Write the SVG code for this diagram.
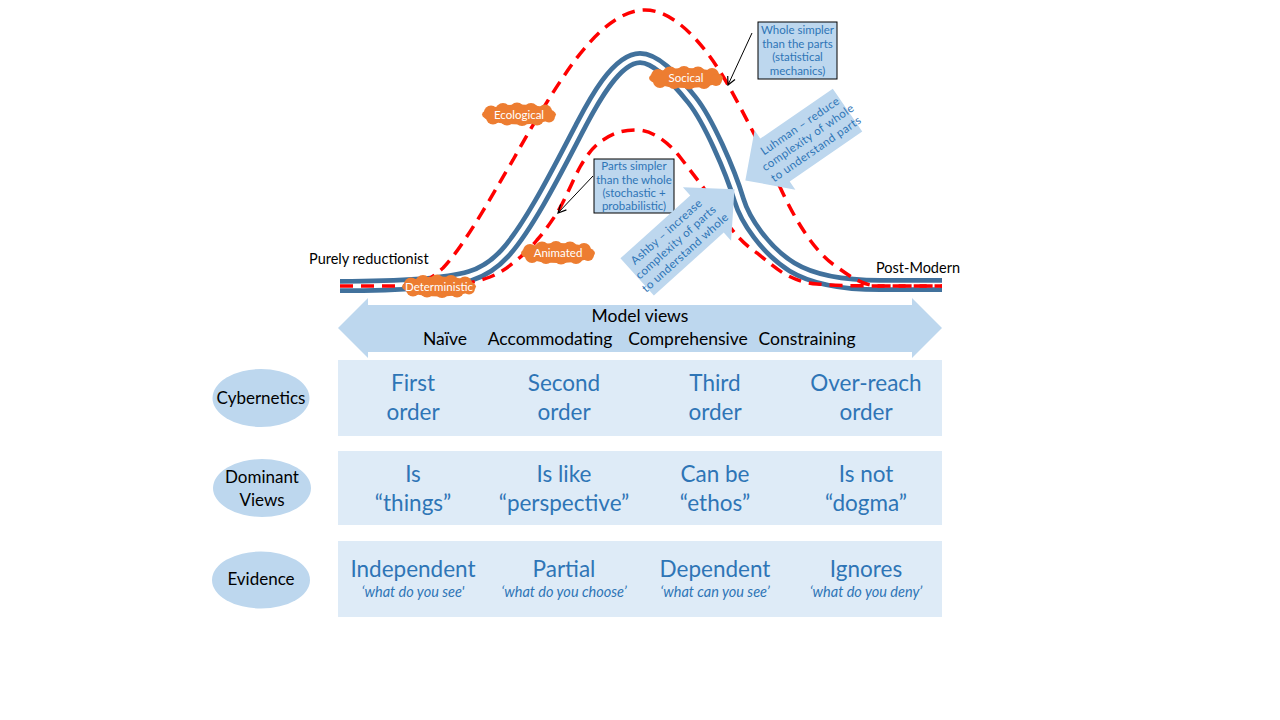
<svg xmlns="http://www.w3.org/2000/svg" width="1280" height="720" viewBox="0 0 1280 720">
<defs>
<style>
text{font-family:Lato,"Liberation Sans",sans-serif}
.blk{fill:#000;font-size:17px}
.mv{fill:#000;font-size:17.5px;text-anchor:middle}
.mid{text-anchor:middle}
.cell{fill:#2E75B6;font-size:22.5px;text-anchor:middle}
.sub{fill:#2E75B6;font-size:14.5px;font-style:italic;text-anchor:middle}
.call{fill:#2E75B6;font-size:11.5px;text-anchor:middle}
.arr{fill:#2E75B6;font-size:11.5px;letter-spacing:0.4px;text-anchor:middle}
.cl{fill:#fff;font-size:11.5px;text-anchor:middle}
.edge{fill:#000;font-size:14.5px}
.row{fill:#DEEBF7}
.oval{fill:#BDD7EE}
.barrow{fill:#BDD7EE}
.blue{fill:none;stroke:#41719C;stroke-width:14}
.gap{fill:none;stroke:#fff;stroke-width:4.5}
.red{fill:none;stroke:#FF0000;stroke-width:3.5;stroke-dasharray:13 8}
.box{fill:#BDD7EE;stroke:#000;stroke-width:1}
.ptr{stroke:#000;stroke-width:1;fill:none}
</style>
<g id="cloudShape" fill="#ED7D31">
<ellipse cx="0" cy="0" rx="37" ry="10"/>
<circle cx="-28" cy="-2" r="7"/>
<circle cx="-16" cy="-4" r="7.5"/>
<circle cx="-2" cy="-4.5" r="7.5"/>
<circle cx="12" cy="-4" r="7.5"/>
<circle cx="26" cy="-3" r="7"/>
<circle cx="-26" cy="3" r="7"/>
<circle cx="-12" cy="4" r="7"/>
<circle cx="3" cy="4" r="7.5"/>
<circle cx="18" cy="4" r="7"/>
<circle cx="30" cy="2" r="6"/>
</g>
<marker id="ah" viewBox="0 0 10 10" refX="9" refY="5" markerWidth="10" markerHeight="10" orient="auto" markerUnits="userSpaceOnUse">
<path d="M1,1 L9,5 L1,9" fill="none" stroke="#000" stroke-width="1.2"/>
</marker>
</defs>
<rect width="1280" height="720" fill="#fff"/>

<g id="connectors">
<path class="blue" d="M340,286 C410,286 450,282 470,276 C483,272 495,264 505,253 C530,225.5 560,165 580,127 C590,108 615,58 640,58 C655,58 672,75 692,100 C708,120 730,170 739,200 C745,220 765,250 792,267 C815,281 845,285 880,285 L942,285"/>
<path class="gap" d="M340,286 C410,286 450,282 470,276 C483,272 495,264 505,253 C530,225.5 560,165 580,127 C590,108 615,58 640,58 C655,58 672,75 692,100 C708,120 730,170 739,200 C745,220 765,250 792,267 C815,281 845,285 880,285 L942,285"/>
<path class="red" d="M340,286 L400,286 C420,286 430,280 443,268 C465,245 495,190 513,160 C528,133 550,95 573,63 C595,33 620,10 645,10 C675,10 705,45 727,83 C745,115 765,155 780,187 C795,220 815,253 837,267 C855,280 865,286 880,286 L942,286"/>
<path class="red" d="M420,287 C450,287 475,283 490,277 C500,273 507,268 513,263 C522,256 530,249 537,240 C545,231 551,222 557,213 C565,200 572,182 580,167 C588,153 595,145 603,140 C612,134 620,130 637,130 C652,130 668,142 680,157 C690,170 696,178 703,187 C714,203 720,215 730,227 C740,240 748,247 757,253 C767,261 775,268 783,273 C795,280 805,283 817,284 C840,286 860,286 942,286"/>
<line class="ptr" x1="752" y1="33" x2="728" y2="85" marker-end="url(#ah)"/>
<line class="ptr" x1="593" y1="176" x2="558" y2="213" marker-end="url(#ah)"/>
</g>

<text class="edge" x="309" y="264">Purely reductionist</text>
<text class="edge" x="876" y="273">Post-Modern</text>

<g id="ecological">
<use href="#cloudShape" transform="translate(519,114.5)"/>
<text class="cl" x="519" y="118.5">Ecological</text>
</g>
<g id="socical">
<use href="#cloudShape" transform="translate(686,78)"/>
<text class="cl" x="686" y="82">Socical</text>
</g>
<g id="animated">
<use href="#cloudShape" transform="translate(558,253)"/>
<text class="cl" x="558" y="257">Animated</text>
</g>
<g id="deterministic">
<use href="#cloudShape" transform="translate(439,286.5)"/>
<text class="cl" x="439" y="290.5">Deterministic</text>
</g>

<g id="whole-simpler">
<rect class="box" x="758" y="22" width="79" height="57"/>
<text class="call" x="797.5" y="34">Whole simpler</text>
<text class="call" x="797.5" y="47.5">than the parts</text>
<text class="call" x="797.5" y="61">(statistical</text>
<text class="call" x="797.5" y="74.5">mechanics)</text>
</g>
<g id="parts-simpler">
<rect class="box" x="594" y="159" width="80" height="54"/>
<text class="call" x="634" y="170">Parts simpler</text>
<text class="call" x="634" y="183.5">than the whole</text>
<text class="call" x="634" y="197">(stochastic +</text>
<text class="call" x="634" y="210">probabilistic)</text>
</g>

<g id="ashby" transform="translate(707,214) rotate(-42)">
<polygon class="barrow" points="-94,-25 0,-25 0,-36 37,0 0,36 0,25 -94,25"/>
<text class="arr" x="-42" y="-10">Ashby – increase</text>
<text class="arr" x="-42" y="4">complexity of parts</text>
<text class="arr" x="-42" y="18">to understand whole</text>
</g>
<g id="luhman" transform="translate(775,160) rotate(-34.5)">
<polygon class="barrow" points="88,-26 0,-26 0,-36 -36,0 0,36 0,26 88,26"/>
<text class="arr" x="40" y="-10">Luhman – reduce</text>
<text class="arr" x="40" y="4">complexity of whole</text>
<text class="arr" x="40" y="18">to understand parts</text>
</g>

<g id="model-views">
<polygon class="barrow" points="338,328 368,298 368,305 912,305 912,298 942,328 912,358 912,352 368,352 368,358"/>
<text class="mv" x="640" y="322">Model views</text>
<text class="mv" x="445" y="345">Naïve</text>
<text class="mv" x="550" y="345">Accommodating</text>
<text class="mv" x="688" y="345">Comprehensive</text>
<text class="mv" x="807" y="345">Constraining</text>
</g>

<g id="cybernetics">
<ellipse class="oval" cx="261" cy="398" rx="48.5" ry="29"/>
<text class="blk mid" x="261" y="404">Cybernetics</text>
</g>
<g id="cybernetics-row">
<rect class="row" x="338" y="360" width="604" height="76"/>
<text class="cell" x="413" y="391">First</text>
<text class="cell" x="413" y="420">order</text>
<text class="cell" x="564" y="391">Second</text>
<text class="cell" x="564" y="420">order</text>
<text class="cell" x="715" y="391">Third</text>
<text class="cell" x="715" y="420">order</text>
<text class="cell" x="866" y="391">Over-reach</text>
<text class="cell" x="866" y="420">order</text>
</g>

<g id="dominant-views">
<ellipse class="oval" cx="262" cy="488" rx="49" ry="29"/>
<text class="blk mid" x="262" y="483">Dominant</text>
<text class="blk mid" x="262" y="506">Views</text>
</g>
<g id="dominant-row">
<rect class="row" x="338" y="451" width="604" height="74"/>
<text class="cell" x="413" y="482">Is</text>
<text class="cell" x="413" y="511">“things”</text>
<text class="cell" x="564" y="482">Is like</text>
<text class="cell" x="564" y="511">“perspective”</text>
<text class="cell" x="715" y="482">Can be</text>
<text class="cell" x="715" y="511">“ethos”</text>
<text class="cell" x="866" y="482">Is not</text>
<text class="cell" x="866" y="511">“dogma”</text>
</g>

<g id="evidence">
<ellipse class="oval" cx="261" cy="580" rx="49" ry="28.5"/>
<text class="blk mid" x="261" y="585">Evidence</text>
</g>
<g id="evidence-row">
<rect class="row" x="338" y="541" width="604" height="76"/>
<text class="cell" x="413" y="577">Independent</text>
<text class="sub" x="413" y="597">‘what do you see'</text>
<text class="cell" x="564" y="577">Partial</text>
<text class="sub" x="564" y="597">‘what do you choose’</text>
<text class="cell" x="715" y="577">Dependent</text>
<text class="sub" x="715" y="597">‘what can you see’</text>
<text class="cell" x="866" y="577">Ignores</text>
<text class="sub" x="866" y="597">‘what do you deny’</text>
</g>
</svg>
